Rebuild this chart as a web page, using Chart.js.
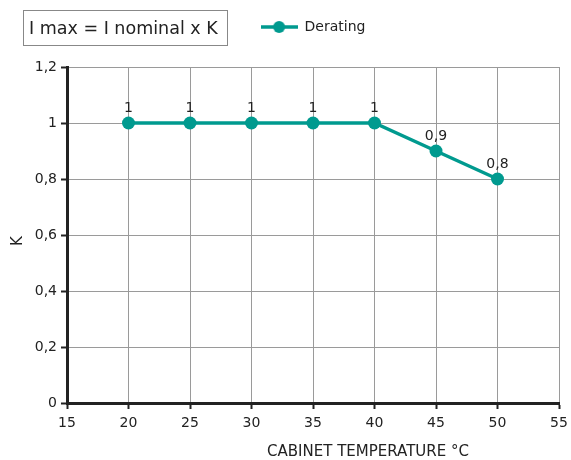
<!DOCTYPE html>
<html>
<head>
<meta charset="utf-8">
<script src="https://cdn.jsdelivr.net/npm/chart.js@4/dist/chart.umd.min.js"></script>
<style>
  html, body { margin: 0; padding: 0; background: #fff; }
  #wrap { position: relative; width: 571px; height: 460px; }
  #formula {
    position: absolute; left: 23px; top: 10px; width: 205px; height: 36px;
    border: 1px solid #888; box-sizing: border-box;
    font: 17.5px "DejaVu Sans", Verdana, sans-serif; color: #222;
    line-height: 34px; padding-left: 5px; white-space: nowrap;
  }
</style>
</head>
<body>
<div id="wrap">
  <canvas id="chart" width="571" height="460"></canvas>
  <div id="formula">I max = I nominal x K</div>
</div>
<script>
// Data
const temps = [20, 25, 30, 35, 40, 45, 50];
const kValues = [1, 1, 1, 1, 1, 0.9, 0.8];
const seriesName = 'Derating';
const xTitle = 'CABINET TEMPERATURE °C';
const yTitle = 'K';

const teal = '#009a8f';
const ink = '#222';
const font = '"DejaVu Sans", Verdana, sans-serif';

// comma decimals like the original
const fmt = v => String(Math.round(v * 10) / 10).replace('.', ',');

// legend marker: line with a dot in the middle
function legendMarker() {
  const c = document.createElement('canvas');
  c.width = 37; c.height = 14;
  const g = c.getContext('2d');
  g.strokeStyle = teal; g.lineWidth = 3.5;
  g.beginPath(); g.moveTo(0, 7); g.lineTo(37, 7); g.stroke();
  g.fillStyle = teal;
  g.beginPath(); g.arc(18.5, 7, 6, 0, Math.PI * 2); g.fill();
  return c;
}

// point labels + axis titles
const extras = {
  id: 'extras',
  afterLayout(chart) {
    const lg = chart.legend;
    const h = lg.bottom - lg.top;
    lg.top = 27 - h / 2;
    lg.bottom = lg.top + h;
  },
  afterDatasetsDraw(chart) {
    const ctx = chart.ctx;
    const meta = chart.getDatasetMeta(0);
    ctx.save();
    ctx.font = '14px ' + font;
    ctx.fillStyle = ink;
    ctx.textAlign = 'center';
    ctx.textBaseline = 'middle';
    meta.data.forEach((pt, i) => {
      ctx.fillText(fmt(kValues[i]), pt.x, pt.y - 15);
    });
    const area = chart.chartArea;
    ctx.font = '15px ' + font;
    ctx.fillText(xTitle, 368, 452);
    ctx.translate(18, (area.top + area.bottom) / 2 + 6);
    ctx.rotate(-Math.PI / 2);
    ctx.fillText(yTitle, 0, 0);
    ctx.restore();
  }
};

new Chart(document.getElementById('chart'), {
  type: 'line',
  data: {
    datasets: [{
      label: seriesName,
      data: temps.map((t, i) => ({ x: t, y: kValues[i] })),
      borderColor: teal,
      backgroundColor: teal,
      borderWidth: 3.5,
      pointRadius: 6.5,
      pointHoverRadius: 6.5,
      pointBackgroundColor: teal,
      pointBorderWidth: 0,
      tension: 0
    }]
  },
  options: {
    responsive: false,
    animation: false,
    layout: { padding: { top: 33, right: 12, left: 0, bottom: 0 } },
    plugins: {
      legend: {
        position: 'top',
        fullSize: false,
        labels: {
          usePointStyle: true,
          pointStyle: legendMarker(),
          pointStyleWidth: 37,
          color: ink,
          font: { family: font, size: 14 },
          padding: 10
        }
      },
      tooltip: { enabled: false }
    },
    scales: {
      x: {
        type: 'linear',
        min: 15, max: 55,
        afterFit: s => { s.height = 57; s.paddingLeft = 0; s.paddingRight = 0; },
        ticks: { stepSize: 5, color: ink, font: { family: font, size: 14 }, padding: 6 },
        grid: { color: '#9a9a9a', lineWidth: 1, tickColor: ink, tickWidth: 2, tickLength: 6 },
        border: { color: ink, width: 3 }
      },
      y: {
        min: 0, max: 1.2,
        afterFit: s => { s.width = 67; },
        ticks: { stepSize: 0.2, color: ink, font: { family: font, size: 14 }, padding: 4, callback: v => fmt(v) },
        grid: { color: '#9a9a9a', lineWidth: 1, tickColor: ink, tickWidth: 2, tickLength: 6 },
        border: { color: ink, width: 3 }
      }
    }
  },
  plugins: [extras]
});
</script>
</body>
</html>
